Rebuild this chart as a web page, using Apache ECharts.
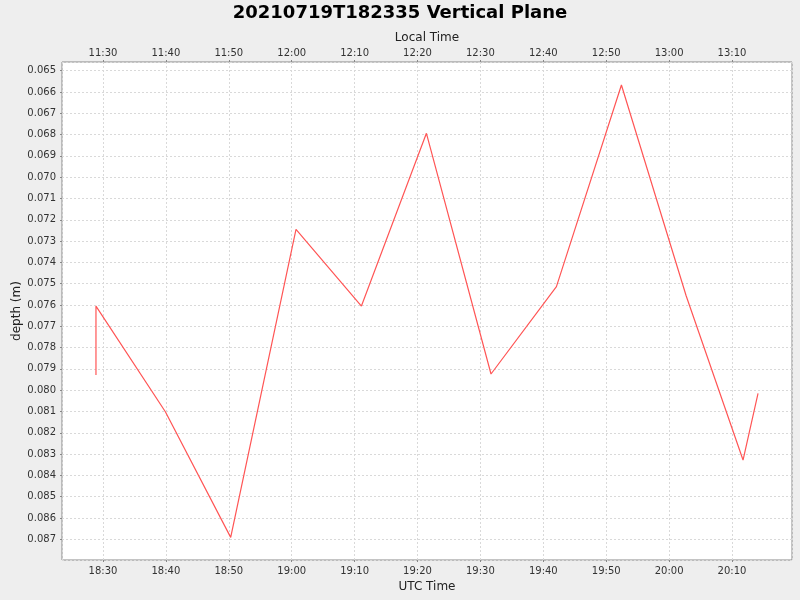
<!DOCTYPE html>
<html>
<head>
<meta charset="utf-8">
<script src="https://cdn.jsdelivr.net/npm/echarts@6/dist/echarts.min.js"></script>
<style>
html,body{margin:0;padding:0;background:#eeeeee;}
#chart{width:800px;height:600px;}
</style>
</head>
<body>
<div id="chart"></div>
<script>
// ---- data ----
var chartTitle = '20210719T182335 Vertical Plane';
var utcTimes = [
  '2021-07-19T18:28:53Z', '2021-07-19T18:28:53Z', '2021-07-19T18:39:55Z',
  '2021-07-19T18:50:18Z', '2021-07-19T19:00:41Z', '2021-07-19T19:11:05Z',
  '2021-07-19T19:21:25Z', '2021-07-19T19:31:41Z', '2021-07-19T19:42:05Z',
  '2021-07-19T19:52:25Z', '2021-07-19T20:02:43Z', '2021-07-19T20:11:45Z',
  '2021-07-19T20:14:08Z'
];
var depths = [
  0.07929, 0.07605, 0.08101,
  0.08691, 0.07245, 0.07605,
  0.06794, 0.07924, 0.07514,
  0.06567, 0.07558, 0.08328,
  0.08015
];
var timeRange = ['2021-07-19T18:23:29Z', '2021-07-19T20:19:32Z'];
var depthRange = [0.064592, 0.087972];
var localOffsetHours = -7;

var seriesData = utcTimes.map(function (t, i) { return [Date.parse(t), depths[i]]; });
var xMin = Date.parse(timeRange[0]);
var xMax = Date.parse(timeRange[1]);
var TEN_MIN = 600000;

function pad(n) { return (n < 10 ? '0' : '') + n; }
function fmtUTC(v) { var d = new Date(v); return pad(d.getUTCHours()) + ':' + pad(d.getUTCMinutes()); }
function fmtLocal(v) { return fmtUTC(v + localOffsetHours * 3600000); }

var font = 'DejaVu Sans';
var chart = echarts.init(document.getElementById('chart'), null, { renderer: 'canvas' });
chart.setOption({
  animation: false,
  backgroundColor: '#eeeeee',
  title: {
    text: chartTitle,
    left: 'center',
    top: -1,
    textStyle: { fontFamily: font, fontSize: 18, fontWeight: 'bold', color: '#000' }
  },
  grid: {
    left: 62, right: 8, top: 62, bottom: 40,
    outerBoundsMode: 'none', containLabel: false,
    show: true, backgroundColor: '#ffffff', borderColor: '#888888', borderWidth: 1
  },
  xAxis: [
    {
      type: 'value', position: 'bottom',
      min: xMin, max: xMax, splitNumber: 12, minInterval: TEN_MIN, maxInterval: TEN_MIN,
      name: 'UTC Time', nameLocation: 'middle', nameGap: 21, nameMoveOverlap: false,
      nameTextStyle: { fontFamily: font, fontSize: 12, color: '#222' },
      axisLine: { show: false },
      axisTick: { show: true, length: 2, lineStyle: { color: '#888' } },
      axisLabel: { formatter: fmtUTC, fontFamily: font, fontSize: 10, color: '#333', margin: 6,
                   showMinLabel: false, showMaxLabel: false },
      splitLine: { show: true, lineStyle: { color: '#d9d9d9', type: [2, 2], width: 1 } }
    },
    {
      type: 'value', position: 'top',
      min: xMin, max: xMax, splitNumber: 12, minInterval: TEN_MIN, maxInterval: TEN_MIN,
      name: 'Local Time', nameLocation: 'middle', nameGap: 18, nameMoveOverlap: false,
      nameTextStyle: { fontFamily: font, fontSize: 12, color: '#222' },
      axisLine: { show: false },
      axisTick: { show: true, length: 2, lineStyle: { color: '#888' } },
      axisLabel: { formatter: fmtLocal, fontFamily: font, fontSize: 10, color: '#333', margin: 4,
                   showMinLabel: false, showMaxLabel: false },
      splitLine: { show: false }
    }
  ],
  yAxis: {
    type: 'value', inverse: true,
    min: depthRange[0], max: depthRange[1], splitNumber: 23, minInterval: 0.001, maxInterval: 0.001,
    name: 'depth (m)', nameLocation: 'middle', nameGap: 39, nameRotate: 90, nameMoveOverlap: false,
    nameTextStyle: { fontFamily: font, fontSize: 12, color: '#222' },
    axisLine: { show: false },
    axisTick: { show: true, length: 2, lineStyle: { color: '#888' } },
    axisLabel: { formatter: function (v) { return v.toFixed(3); }, fontFamily: font, fontSize: 10,
                 color: '#333', margin: 6, showMinLabel: false, showMaxLabel: false },
    splitLine: { show: true, lineStyle: { color: '#d9d9d9', type: [2, 2], width: 1 } }
  },
  series: [{
    type: 'line',
    xAxisIndex: 0,
    data: seriesData,
    showSymbol: false,
    symbol: 'none',
    lineStyle: { color: '#ff5555', width: 1.2 },
    silent: true
  }]
});
</script>
</body>
</html>
